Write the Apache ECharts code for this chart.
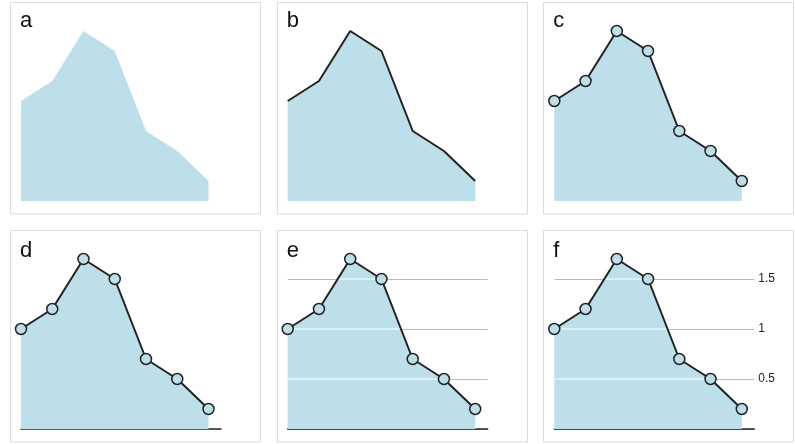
<!DOCTYPE html>
<html>
<head>
<meta charset="utf-8">
<style>
  html, body { margin: 0; padding: 0; background: #fff; }
  #chart { width: 795px; height: 444px; }
</style>
<script src="https://cdn.jsdelivr.net/npm/echarts@6/dist/echarts.min.js"></script>
</head>
<body>
<div id="chart"></div>
<script>
// ---- data ----
const xValues = [0, 1, 2, 3, 4, 5, 6];
const yValues = [1.0, 1.2, 1.7, 1.5, 0.7, 0.5, 0.2];
const gridValues = [0.5, 1, 1.5];
const panelLabels = ['a', 'b', 'c', 'd', 'e', 'f'];

// ---- style ----
const FILL = '#bcdfe9';
const INK = '#222';
const GRID_GREY = '#bdbdbd';
const panelLeft = [10, 276.7, 543.3];
const panelTop = [1.5, 230];
const panelW = 250, panelH = 211.5;

const points = xValues.map((x, i) => [x, yValues[i]]);

// segments of a horizontal line at v that lie inside the area
function insideSegments(v) {
  const segs = [];
  const n = xValues.length;
  let start = yValues[0] >= v ? xValues[0] : null;
  for (let i = 0; i < n - 1; i++) {
    const a = yValues[i], b = yValues[i + 1];
    const xa = xValues[i], xb = xValues[i + 1];
    if (a < v && b >= v) {
      start = xa + (v - a) / (b - a) * (xb - xa);
    } else if (a >= v && b < v) {
      const t = xa + (v - a) / (b - a) * (xb - xa);
      segs.push([start, t]);
      start = null;
    }
  }
  if (start !== null) segs.push([start, xValues[n - 1]]);
  return segs;
}

const grids = [], xAxes = [], yAxes = [], series = [], graphics = [];

for (let p = 0; p < 6; p++) {
  const col = p % 3, row = Math.floor(p / 3);
  const pl = panelLeft[col], pt = panelTop[row];
  graphics.push({
    type: 'rect', silent: true, z: -10,
    shape: { x: Math.round(pl) + 0.5, y: Math.round(pt) + 0.5, width: panelW, height: panelH },
    style: { fill: 'none', stroke: '#dcdcdc', lineWidth: 1 }
  });
  graphics.push({
    type: 'text', silent: true,
    x: pl + 10, y: row === 0 ? 21 : 251,
    style: { text: panelLabels[p], fontSize: 22, fontFamily: 'Liberation Sans, Arial, sans-serif',
             fill: '#111', verticalAlign: 'middle', align: 'left' }
  });

  grids.push({ left: pl + 11, top: row === 0 ? 1 : 229, width: 200, height: 200, containLabel: false });
  xAxes.push({
    type: 'value', gridIndex: p, min: 0, max: 6.4,
    axisLine: { show: p >= 3, onZero: false, lineStyle: { color: INK, width: 1.5 } },
    axisTick: { show: false }, axisLabel: { show: false }, splitLine: { show: false }
  });
  yAxes.push({
    type: 'value', gridIndex: p, min: 0, max: 2, interval: 0.5, position: 'right',
    axisLine: { show: false }, axisTick: { show: false },
    axisLabel: {
      show: p === 5, margin: 4, color: '#222', fontSize: 12,
      fontFamily: 'Liberation Sans, Arial, sans-serif',
      formatter: v => (gridValues.indexOf(v) >= 0 ? String(v) : '')
    },
    splitLine: {
      show: p >= 4,
      lineStyle: { color: [GRID_GREY, GRID_GREY, GRID_GREY, GRID_GREY, 'rgba(0,0,0,0)'], width: 1 }
    }
  });

  // area
  series.push({
    type: 'line', xAxisIndex: p, yAxisIndex: p, data: points,
    symbol: 'none', silent: true, z: 2,
    lineStyle: { width: 0, color: FILL },
    areaStyle: { color: FILL, opacity: 1 }
  });

  // white gridlines inside area
  if (p >= 4) {
    gridValues.forEach(v => {
      insideSegments(v).forEach(seg => {
        series.push({
          type: 'line', xAxisIndex: p, yAxisIndex: p,
          data: [[seg[0], v], [seg[1], v]],
          symbol: 'none', silent: true, z: 3,
          lineStyle: { color: '#ffffff', width: 1 }
        });
      });
    });
  }

  // outline + markers
  if (p >= 1) {
    series.push({
      type: 'line', xAxisIndex: p, yAxisIndex: p, data: points,
      symbol: p >= 2 ? 'circle' : 'none', symbolSize: 11, showSymbol: p >= 2,
      silent: true, z: 4,
      lineStyle: { color: INK, width: 2 },
      itemStyle: { color: FILL, borderColor: INK, borderWidth: 1.5 }
    });
  }
}

const chart = echarts.init(document.getElementById('chart'), null, { renderer: 'canvas' });
chart.setOption({
  animation: false,
  backgroundColor: '#ffffff',
  grid: grids, xAxis: xAxes, yAxis: yAxes, series: series,
  graphic: graphics
});
</script>
</body>
</html>
